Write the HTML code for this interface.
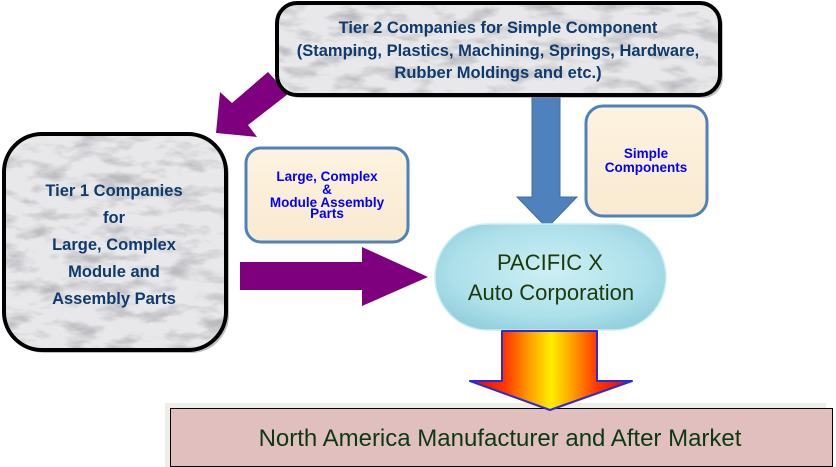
<!DOCTYPE html>
<html>
<head>
<meta charset="utf-8">
<style>
  html, body { margin:0; padding:0; background:#ffffff; }
  body { width:836px; height:467px; overflow:hidden; }
  svg { display:block; }
  .t2 { font-family:"Liberation Sans", Arial, sans-serif; font-weight:bold; font-size:16.5px; fill:#0e3a6e; }
  .lb { font-family:"Liberation Sans", Arial, sans-serif; font-weight:bold; font-size:13.5px; fill:#0000ff; }
  .pc { font-family:"Liberation Sans", Arial, sans-serif; font-size:22px; fill:#1c3a08; }
  .na { font-family:"Liberation Sans", Arial, sans-serif; font-size:24px; fill:#0b3a12; }
</style>
</head>
<body>
<svg width="836" height="467" viewBox="0 0 836 467" xmlns="http://www.w3.org/2000/svg">
  <defs>
    <filter id="marble" x="0" y="0" width="100%" height="100%">
      <feTurbulence type="fractalNoise" baseFrequency="0.03 0.075" numOctaves="4" seed="7"/>
      <feColorMatrix type="matrix" values="0 0 0 0 0.5  0 0 0 0 0.5  0 0 0 0 0.53  2.8 0 0 0 -1.3"/>
    </filter>
    <clipPath id="c2"><rect x="277" y="3" width="443" height="92" rx="20"/></clipPath>
    <clipPath id="c1"><rect x="4" y="134" width="222" height="216" rx="38"/></clipPath>
    <linearGradient id="og" x1="470" y1="0" x2="632" y2="0" gradientUnits="userSpaceOnUse">
      <stop offset="0" stop-color="#e80000"/>
      <stop offset="0.22" stop-color="#ff3a00"/>
      <stop offset="0.36" stop-color="#ff9a00"/>
      <stop offset="0.5" stop-color="#ffee00"/>
      <stop offset="0.64" stop-color="#ff9a00"/>
      <stop offset="0.78" stop-color="#ff3a00"/>
      <stop offset="1" stop-color="#e80000"/>
    </linearGradient>
    <radialGradient id="pg" cx="0.5" cy="0.45" r="0.6">
      <stop offset="0" stop-color="#cdeff4"/>
      <stop offset="0.7" stop-color="#ade0ea"/>
      <stop offset="1" stop-color="#94d0de"/>
    </radialGradient>
    <linearGradient id="cg" x1="0" y1="0" x2="0" y2="1">
      <stop offset="0" stop-color="#fdf3e0"/>
      <stop offset="1" stop-color="#f9ead0"/>
    </linearGradient>
  </defs>

  <!-- Purple diagonal arrow -->
  <polygon points="268,72 232,103 220,92 216,133 257,137 248,125 288,94" fill="#7f007f"/>

  <!-- Blue down arrow -->
  <polygon points="532,90 560,90 560,197 577,197 547,228 517,197 532,197" fill="#4f81bd" stroke="#3f6ea6" stroke-width="1"/>

  <!-- Tier 2 box -->
  <rect x="280" y="6" width="443" height="92" rx="20" fill="#8a8a8a" opacity="0.55"/>
  <rect x="277" y="3" width="443" height="92" rx="20" fill="#e8e8ea"/>
  <rect x="277" y="3" width="443" height="92" fill="#000" filter="url(#marble)" clip-path="url(#c2)"/>
  <rect x="277" y="3" width="443" height="92" rx="20" fill="none" stroke="#000" stroke-width="4"/>
  <text class="t2" x="498" y="33" text-anchor="middle">Tier 2 Companies for Simple Component</text>
  <text class="t2" x="498" y="56" text-anchor="middle">(Stamping, Plastics, Machining, Springs, Hardware,</text>
  <text class="t2" x="498" y="78" text-anchor="middle">Rubber Moldings and etc.)</text>

  <!-- Tier 1 box -->
  <rect x="7" y="137" width="222" height="216" rx="38" fill="#8a8a8a" opacity="0.55"/>
  <rect x="4" y="134" width="222" height="216" rx="38" fill="#e8e8ea"/>
  <rect x="4" y="134" width="222" height="216" fill="#000" filter="url(#marble)" clip-path="url(#c1)"/>
  <rect x="4" y="134" width="222" height="216" rx="38" fill="none" stroke="#000" stroke-width="4"/>
  <text class="t2" x="114" y="196" text-anchor="middle">Tier 1 Companies</text>
  <text class="t2" x="114" y="223" text-anchor="middle">for</text>
  <text class="t2" x="114" y="250" text-anchor="middle">Large, Complex</text>
  <text class="t2" x="114" y="277" text-anchor="middle">Module and</text>
  <text class="t2" x="114" y="304" text-anchor="middle">Assembly Parts</text>

  <!-- Large, Complex box -->
  <rect x="246" y="148" width="162" height="94" rx="15" fill="url(#cg)" stroke="#4f81bd" stroke-width="3"/>
  <text class="lb" x="327" y="181" text-anchor="middle">Large, Complex</text>
  <text class="lb" x="327" y="194" text-anchor="middle">&amp;</text>
  <text class="lb" x="327" y="207" text-anchor="middle">Module Assembly</text>
  <text class="lb" x="327" y="218" text-anchor="middle">Parts</text>

  <!-- Simple Components box -->
  <rect x="586" y="106" width="121" height="110" rx="17" fill="url(#cg)" stroke="#4f81bd" stroke-width="3"/>
  <text class="lb" x="646" y="158" text-anchor="middle">Simple</text>
  <text class="lb" x="646" y="172" text-anchor="middle">Components</text>

  <!-- Purple right arrow -->
  <polygon points="240,262 362,262 362,247 428,277 362,306 362,290 240,290" fill="#7f007f"/>

  <!-- Pacific X pill -->
  <rect x="435" y="224" width="231" height="106" rx="52" ry="53" fill="url(#pg)" stroke="#c9eef3" stroke-width="1.5"/>
  <text class="pc" x="550" y="270" text-anchor="middle">PACIFIC X</text>
  <text class="pc" x="551" y="300" text-anchor="middle">Auto Corporation</text>

  <!-- Bottom box -->
  <rect x="165" y="403" width="661" height="64" fill="#efeee6"/>
  <rect x="170.5" y="408.5" width="662" height="58" fill="#e2bfbf" stroke="#000" stroke-width="1"/>
  <text class="na" x="500" y="446" text-anchor="middle">North America Manufacturer and After Market</text>

  <!-- Orange down arrow -->
  <polygon points="502,331 597,331 597,381 632,381 550,410 470,381 502,381" fill="url(#og)" stroke="#2a2ad8" stroke-width="2" stroke-linejoin="round"/>
</svg>
</body>
</html>
